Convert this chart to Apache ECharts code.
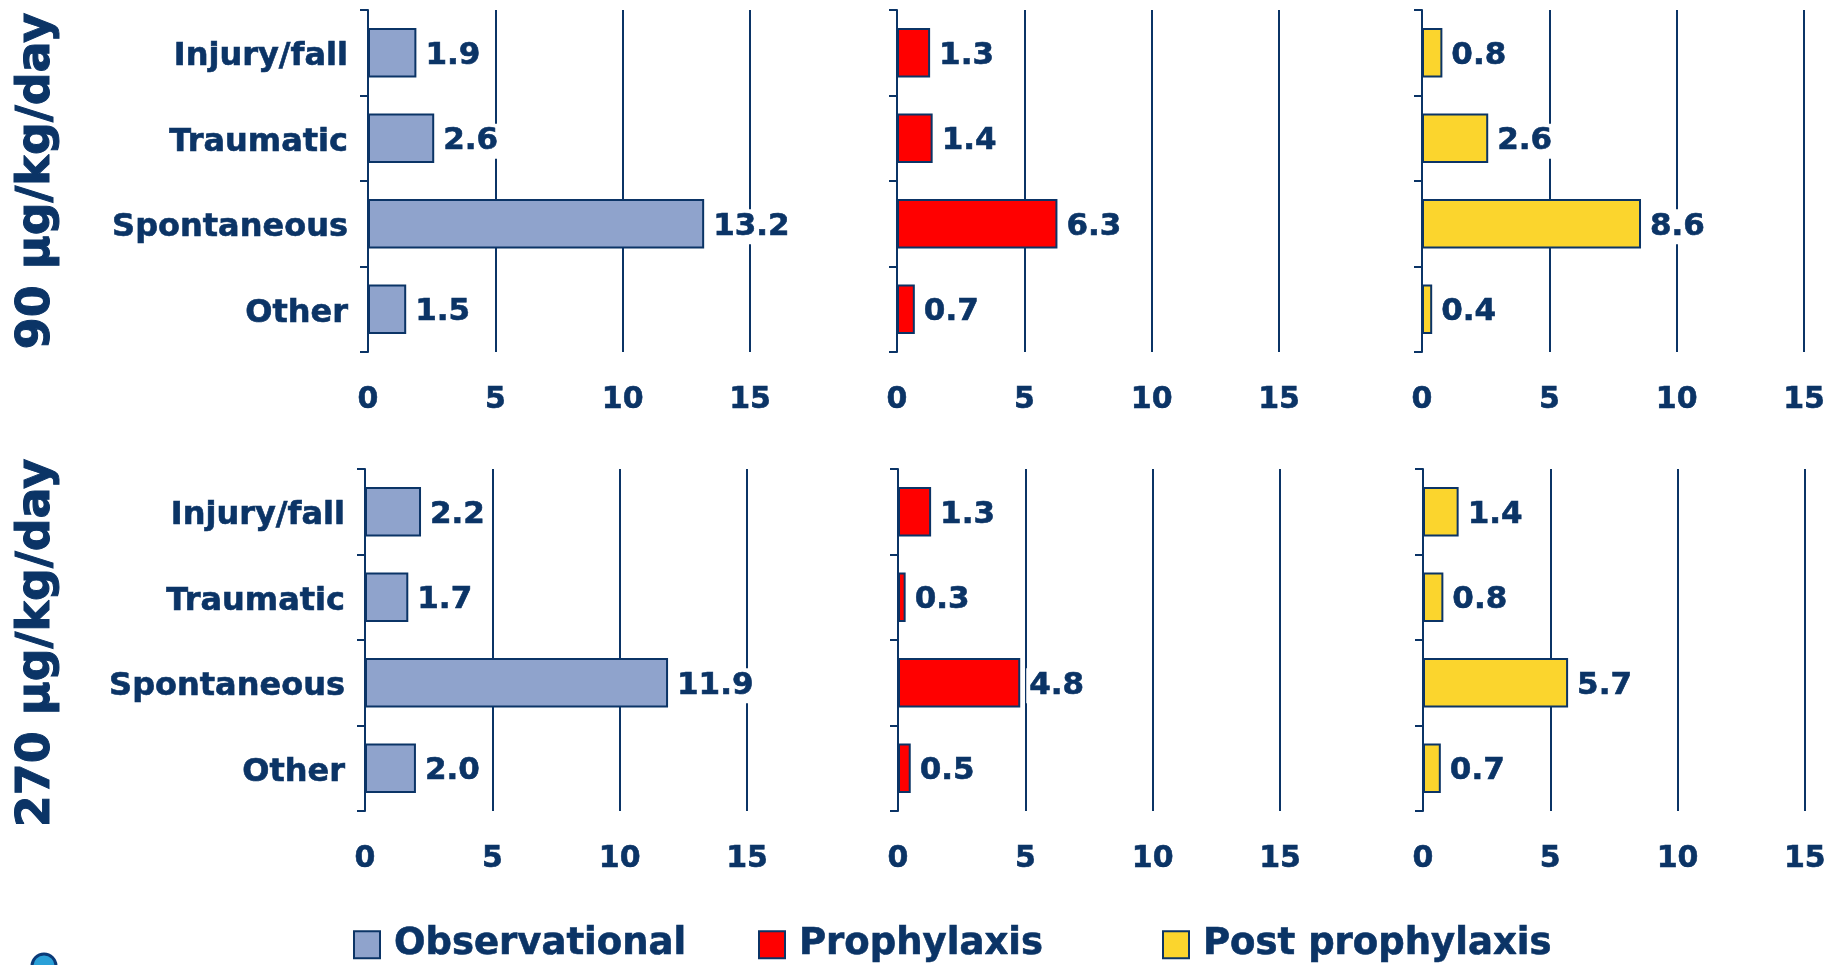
<!DOCTYPE html>
<html>
<head>
<meta charset="utf-8">
<script src="https://cdn.jsdelivr.net/npm/echarts@6/dist/echarts.min.js"></script>
<style>
  html, body { margin: 0; padding: 0; background: #ffffff; }
  #chart { width: 1829px; height: 965px; }
</style>
</head>
<body>
<div id="chart"></div>
<script>
// Bleed types (rows of each panel, top to bottom)
const categories = ['Injury/fall', 'Traumatic', 'Spontaneous', 'Other'];

// Dose regimens (one row of panels each)
const doseLabels = ['90 µg/kg/day', '270 µg/kg/day'];

// Study periods (one column of panels each)
const periods = ['Observational', 'Prophylaxis', 'Post prophylaxis'];

// Bleed rates per period, 90 µg/kg/day
const obs90  = [1.9, 2.6, 13.2, 1.5];
const pro90  = [1.3, 1.4, 6.3, 0.7];
const post90 = [0.8, 2.6, 8.6, 0.4];

// Bleed rates per period, 270 µg/kg/day
const obs270  = [2.2, 1.7, 11.9, 2.0];
const pro270  = [1.3, 0.3, 4.8, 0.5];
const post270 = [1.4, 0.8, 5.7, 0.7];

// Value axis ticks
const xTicks = [0, 5, 10, 15];

const NAVY = '#0b3466';
const FONT = '"DejaVu Sans", Verdana, sans-serif';
const fills = ['#8fa3cc', '#ff0000', '#fbd52d'];

const rows = [
  [obs90, pro90, post90],
  [obs270, pro270, post270]
];

// Panel placement
const colLeft = [[368, 897, 1422], [365, 898, 1423]];
const rowTop = [10, 469];
const panelW = 382;
const panelH = 342;

// Heavier strokes on text, closer to a Verdana-style bold
const heavy = { textBorderColor: NAVY, textBorderWidth: 0.6 };
const catText = Object.assign({ color: NAVY, fontSize: 32, fontWeight: 'bold', fontFamily: FONT }, heavy);

const grids = [], xAxes = [], yAxes = [], series = [];
rows.forEach((rowData, r) => {
  rowData.forEach((vals, c) => {
    const idx = grids.length;
    grids.push({ left: colLeft[r][c], top: rowTop[r], width: panelW, height: panelH, containLabel: false });
    xAxes.push({
      type: 'value', gridIndex: idx,
      min: xTicks[0], max: xTicks[xTicks.length - 1], interval: xTicks[1] - xTicks[0],
      axisLine: { show: false }, axisTick: { show: false },
      splitLine: { show: true, lineStyle: { color: NAVY, width: 2 } },
      axisLabel: Object.assign({ show: true, margin: 33, color: NAVY, fontSize: 30, fontWeight: 'bold', fontFamily: FONT }, heavy)
    });
    yAxes.push({
      type: 'category', gridIndex: idx, inverse: true, data: categories,
      axisLine: { show: true, lineStyle: { color: NAVY, width: 2 } },
      axisTick: { show: true, length: 8, lineStyle: { color: NAVY, width: 2 } },
      axisLabel: {
        show: c === 0, margin: 20,
        formatter: v => '{c|' + v + '}',
        rich: { c: Object.assign({ padding: [8, 0, 0, 0] }, catText) }
      }
    });
    series.push({
      type: 'bar', name: periods[c], xAxisIndex: idx, yAxisIndex: idx,
      data: vals, barCategoryGap: '42%',
      itemStyle: { color: fills[c], borderColor: NAVY, borderWidth: 2 },
      label: Object.assign({
        show: true, position: 'right', distance: 6, offset: [0, 3],
        color: NAVY, fontSize: 31, fontWeight: 'bold', fontFamily: FONT,
        backgroundColor: '#ffffff', padding: [2, 3],
        formatter: p => p.value.toFixed(1)
      }, heavy),
      silent: true, animation: false
    });
  });
});

// One legend per period, each placed on its own
const legendLeft = [353, 758, 1162];
const legends = periods.map((name, i) => ({
  left: legendLeft[i], top: 926, padding: 0,
  itemWidth: 26, itemHeight: 27, icon: 'rect',
  selectedMode: false,
  data: [{ name: name, itemStyle: { color: fills[i], borderColor: NAVY, borderWidth: 2 } }],
  textStyle: Object.assign({ color: NAVY, fontSize: 37, fontWeight: 'bold', fontFamily: FONT, padding: [0, 0, 0, 9] }, heavy)
}));

// Row titles, rotated, plus the round mark at the lower-left corner
const rowCenters = [181, 643];
const graphics = doseLabels.map((t, i) => ({
  type: 'text', x: 37, y: rowCenters[i], rotation: Math.PI / 2,
  style: { text: t, align: 'center', verticalAlign: 'middle', fill: NAVY, stroke: NAVY, lineWidth: 1,
    font: 'bold 46px ' + FONT }
}));
graphics.push({
  type: 'circle', shape: { cx: 44, cy: 966, r: 12 },
  style: { fill: '#2aa0d8', stroke: '#0a3a78', lineWidth: 3 }
});

const chart = echarts.init(document.getElementById('chart'), null, { renderer: 'canvas' });
chart.setOption({
  animation: false,
  backgroundColor: '#ffffff',
  grid: grids, xAxis: xAxes, yAxis: yAxes, series: series,
  legend: legends,
  graphic: graphics
});
</script>
</body>
</html>
